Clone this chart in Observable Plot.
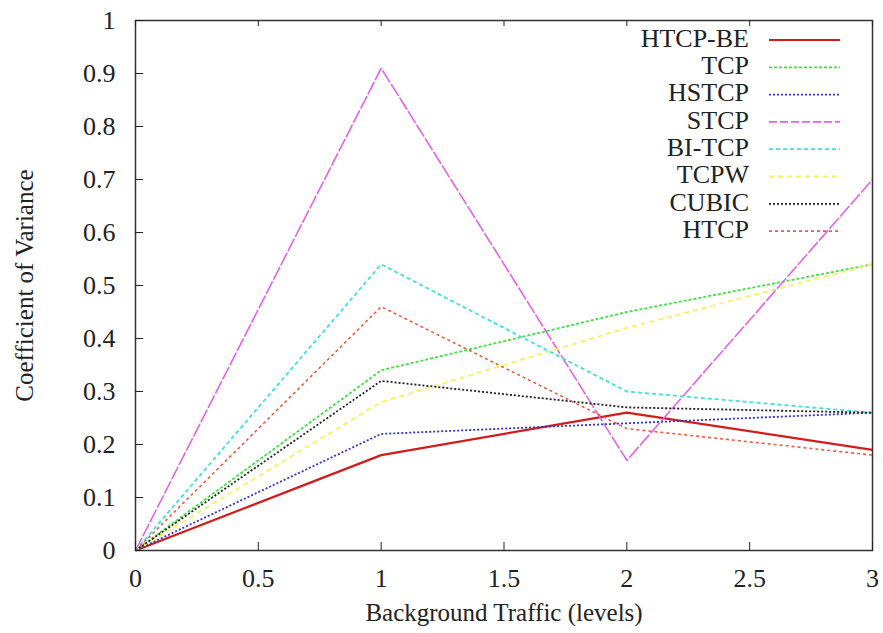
<!DOCTYPE html>
<html><head><meta charset="utf-8">
<script src="https://cdn.jsdelivr.net/npm/d3@7"></script>
<script src="https://cdn.jsdelivr.net/npm/@observablehq/plot@0.6"></script>
<style>body{margin:0;background:#fff} svg{display:block} svg text{font-family:"Liberation Serif","Times New Roman",serif !important}</style>
</head><body><div id="chart"></div>
<script>
const levels = [0, 1, 2, 3];
const seriesNames = ["HTCP-BE", "TCP", "HSTCP", "STCP", "BI-TCP", "TCPW", "CUBIC", "HTCP"];
const htcpBE = [0, 0.18, 0.26, 0.19];
const tcp    = [0, 0.34, 0.45, 0.54];
const hstcp  = [0, 0.22, 0.24, 0.26];
const stcp   = [0, 0.91, 0.17, 0.70];
const bitcp  = [0, 0.54, 0.30, 0.26];
const tcpw   = [0, 0.28, 0.42, 0.54];
const cubic  = [0, 0.32, 0.27, 0.26];
const htcp   = [0, 0.46, 0.23, 0.18];
const seriesValues = [htcpBE, tcp, hstcp, stcp, bitcp, tcpw, cubic, htcp];
const seriesColors = ["#d21c1c", "#3ee23e", "#3434cc", "#e462e8", "#3ee0e0", "#f4f25a", "#222222", "#f05a40"];
const seriesDash = [null, "3,2", "2,2", "14,2", "4,3", "5,4", "2,2", "3,3"];
const legendDash = [null, "3,2", "2,2", "8,3", "4,3", "5,4", "2,2", "3,3"];
const seriesWidth = [2.2, 1.8, 1.8, 1.6, 1.8, 1.8, 1.8, 1.6];

const xTicks = [0, 0.5, 1, 1.5, 2, 2.5, 3];
const xTickLabels = ["0", "0.5", "1", "1.5", "2", "2.5", "3"];
const yTicks = [0, 0.1, 0.2, 0.3, 0.4, 0.5, 0.6, 0.7, 0.8, 0.9, 1];
const yTickLabels = ["0", "0.1", "0.2", "0.3", "0.4", "0.5", "0.6", "0.7", "0.8", "0.9", "1"];
const xTitle = "Background Traffic (levels)";
const yTitle = "Coefficient of Variance";

const rows = [];
seriesNames.forEach((name, s) => levels.forEach((lv, i) => rows.push({series: name, s, x: lv, y: seriesValues[s][i]})));

const W = 883, H = 633, mL = 135, mR = 11, mT = 20, mB = 83;
const font = "Liberation Serif, Times New Roman, serif";

const lineMarks = seriesNames.map((name, s) => Plot.line(rows.filter(r => r.s === s), {
  x: "x", y: "y", stroke: seriesColors[s], strokeWidth: seriesWidth[s],
  strokeDasharray: seriesDash[s] ?? undefined, strokeLinejoin: "miter", strokeLinecap: "butt"
}));

const plot = Plot.plot({
  width: W, height: H,
  marginLeft: mL, marginRight: mR, marginTop: mT, marginBottom: mB,
  style: {fontFamily: font, fontSize: "25px", color: "#222", background: "#fff"},
  x: {domain: [0, 3]},
  y: {domain: [0, 1]},
  marks: [
    ...lineMarks,
    Plot.frame({stroke: "#333", strokeWidth: 1.5}),
    Plot.axisX(xTicks, {anchor: "bottom", tickSize: -8, tickPadding: 26, tickFormat: (d, i) => xTickLabels[i], label: null, stroke: "#222", fontSize: 26, fontFamily: font}),
    Plot.axisX(xTicks, {anchor: "top", tickSize: -5, tickFormat: () => "", label: null, stroke: "#222"}),
    Plot.axisY(yTicks, {anchor: "left", tickSize: -8, tickPadding: 28, tickFormat: (d, i) => yTickLabels[i], label: null, stroke: "#222", fontSize: 26, fontFamily: font}),
    Plot.text([xTitle], {frameAnchor: "bottom", lineAnchor: "middle", dy: 62, text: d => d, fontSize: 25, fontFamily: font, fill: "#222"}),
    Plot.text([yTitle], {frameAnchor: "left", textAnchor: "middle", dx: -111, rotate: -90, text: d => d, fontSize: 25, fontFamily: font, fill: "#222"})
  ]
});

document.getElementById("chart").appendChild(plot);

// Legend (inside top-right of the frame)
const svg = d3.select(plot);
const right = W - mR;
const lg = svg.append("g");
seriesNames.forEach((name, s) => {
  const cy = mT + 19 + s * 27.3;
  lg.append("text").attr("x", right - 123).attr("y", cy).attr("dy", "0.3em").attr("text-anchor", "end")
    .style("font-family", font).style("font-size", "26px").style("fill", "#222").text(name);
  lg.append("line").attr("x1", right - 103).attr("x2", right - 32).attr("y1", cy + 1).attr("y2", cy + 1)
    .attr("stroke", seriesColors[s]).attr("stroke-width", seriesWidth[s])
    .attr("stroke-dasharray", legendDash[s]);
});
</script>
</body></html>
